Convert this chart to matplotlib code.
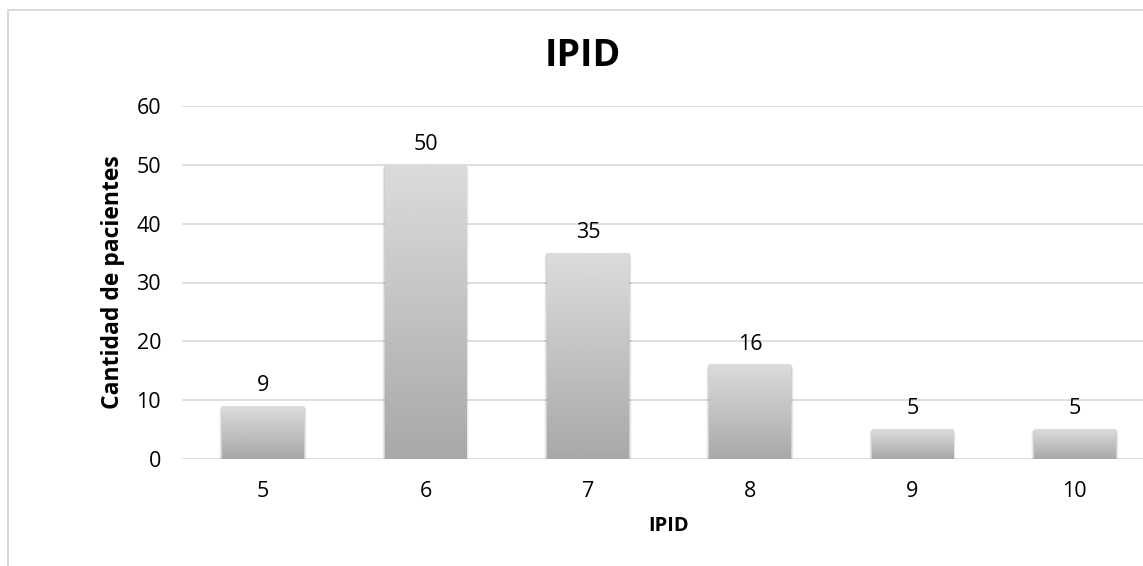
import numpy as np
import matplotlib.pyplot as plt
from matplotlib.patches import Rectangle

categorias = ['5', '6', '7', '8', '9', '10']
pacientes = [9, 50, 35, 16, 5, 5]

plt.rcParams['font.family'] = ['Open Sans', 'DejaVu Sans']

fig = plt.figure(figsize=(11.43, 5.66), dpi=100)
fig.patch.set_facecolor('white')

# marco del grafico (se sale por la derecha y abajo)
fig.patches.append(Rectangle((8 / 1143, -0.1), 1.2, 1 - 10 / 566 + 0.1,
                             transform=fig.transFigure, fill=False,
                             edgecolor='#d9d9d9', linewidth=1.5))

ax = fig.add_axes([182 / 1143, 107 / 566, 974 / 1143, 353 / 566])
x = np.arange(len(categorias))
ancho = 0.505

ax.yaxis.grid(True, color='#d9d9d9', linewidth=1.2)
ax.set_axisbelow(True)
for s in ax.spines.values():
    s.set_visible(False)
ax.tick_params(length=0, labelsize=15.5, colors='black')
ax.tick_params(axis='y', pad=15)
ax.tick_params(axis='x', pad=16)
ax.set_xticks(x)
ax.set_xticklabels(categorias)
ax.set_yticks(range(0, 61, 10))

grad = np.linspace(0.86, 0.66, 200).reshape(-1, 1)
for xi, v in zip(x, pacientes):
    # sombra
    for k, a in enumerate([0.10, 0.06, 0.03]):
        d = 0.012 * (k + 1)
        ax.add_patch(Rectangle((xi - ancho / 2 - d * 0.5, -0.6 - k * 0.25),
                               ancho + d, v + 0.6, facecolor='black',
                               edgecolor='none', alpha=a, zorder=2))
    ax.imshow(grad, cmap='gray', vmin=0, vmax=1, aspect='auto',
              extent=(xi - ancho / 2, xi + ancho / 2, 0, v), zorder=3,
              interpolation='bilinear')
    ax.text(xi, v + 3.5, str(v), ha='center', va='center', fontsize=15.5)

ax.set_xlim(-0.5, len(categorias) - 0.5)
ax.set_ylim(0, 60)

ax.set_ylabel('Cantidad de pacientes', fontsize=16.5, fontweight='bold', labelpad=8)
ax.set_xlabel('IPID', fontsize=14.5, fontweight='bold', labelpad=10)
fig.text(583 / 1143, 1 - 56 / 566, 'IPID', ha='center', va='center',
         fontsize=27, fontweight='bold')

fig.savefig('out.png', dpi=100)
